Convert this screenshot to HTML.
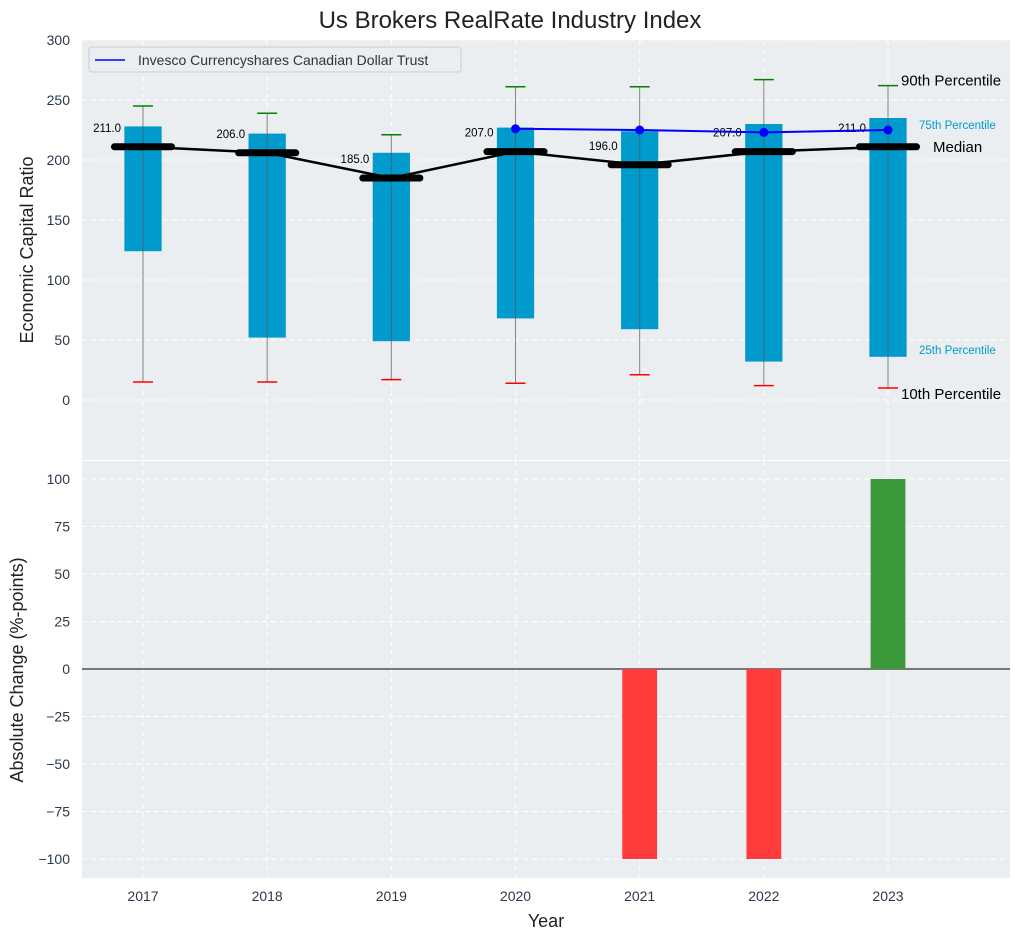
<!DOCTYPE html>
<html><head><meta charset="utf-8"><style>
body{margin:0;background:#fff;font-family:"Liberation Sans",sans-serif}
svg text{font-family:"Liberation Sans",sans-serif}
</style></head><body>
<svg id="c" width="1021" height="940" xmlns="http://www.w3.org/2000/svg"></svg>
<script>
const years=[2017,2018,2019,2020,2021,2022,2023];
const p10=[15,15,17,14,21,12,10];
const p25=[124,52,49,68,59,32,36];
const p50=[211,206,185,207,196,207,211];
const p75=[228,222,206,227,224,230,235];
const p90=[245,239,221,261,261,267,262];
const trustYears=[2020,2021,2022,2023];
const trustVals=[226,225,223,225];
const changes=[0,0,0,0,-100,-100,100];
const topTicks=[0,50,100,150,200,250,300];
const botTicks=[-100,-75,-50,-25,0,25,50,75,100];

const svg=document.getElementById('c');
const NS='http://www.w3.org/2000/svg';
function el(t,a,txt){const e=document.createElementNS(NS,t);for(const k in a)e.setAttribute(k,a[k]);if(txt!==undefined)e.textContent=txt;svg.appendChild(e);return e;}
const L=82,R=1010;
const x=v=>143+(v-2017)*(888-143)/6;
const yT=v=>460-(v+50)/350*420;
const yB=v=>669-v*1.9;

let t=el('text',{x:510,y:28,'font-size':24,'text-anchor':'middle',fill:'#222'},'Us Brokers RealRate Industry Index');


let b1=el('rect',{x:L,y:40,width:R-L,height:420,fill:'#eaeef0'});

let b2=el('rect',{x:L,y:461,width:R-L,height:417,fill:'#eaeef0'});


years.forEach(yr=>{
  el('line',{x1:x(yr),x2:x(yr),y1:40,y2:460,stroke:'#fff','stroke-dasharray':'5,4'});
  el('line',{x1:x(yr),x2:x(yr),y1:461,y2:878,stroke:'#fff','stroke-dasharray':'5,4'});
  let tl=el('text',{x:x(yr),y:901,'font-size':14,'text-anchor':'middle',fill:'#2b3a4a'},yr);
  
});
topTicks.forEach(v=>{
  el('line',{x1:L,x2:R,y1:yT(v),y2:yT(v),stroke:'#fff','stroke-dasharray':'5,4'});
  let tl=el('text',{x:L-12,y:yT(v)+5,'font-size':14,'text-anchor':'end',fill:'#2b3a4a'},v);
  
});
botTicks.forEach(v=>{
  el('line',{x1:L,x2:R,y1:yB(v),y2:yB(v),stroke:'#fff','stroke-dasharray':'5,4'});
  let tl=el('text',{x:L-12,y:yB(v)+5,'font-size':14,'text-anchor':'end',fill:'#2b3a4a'},v<0?'\u2212'+(-v):v);
  
});

const bw=(x(2017.15)-x(2017));
years.forEach((yr,i)=>{
  let r=el('rect',{x:x(yr)-bw,y:yT(p75[i]),width:2*bw,height:yT(p25[i])-yT(p75[i]),fill:'#009ACD'});
  
  el('line',{x1:x(yr),x2:x(yr),y1:yT(p90[i]),y2:yT(p10[i]),stroke:'#555','stroke-width':1,opacity:0.7});
  let g=el('line',{x1:x(yr)-10,x2:x(yr)+10,y1:yT(p90[i]),y2:yT(p90[i]),stroke:'green','stroke-width':1.5});
  
  let rd=el('line',{x1:x(yr)-10,x2:x(yr)+10,y1:yT(p10[i]),y2:yT(p10[i]),stroke:'red','stroke-width':1.5});
  
});
let pts=years.map((yr,i)=>x(yr)+','+yT(p50[i])).join(' ');
let ml=el('polyline',{points:pts,fill:'none',stroke:'#000','stroke-width':2.5});

const mw=x(2017.23)-x(2017);
years.forEach((yr,i)=>{
  let m=el('line',{x1:x(yr)-mw,x2:x(yr)+mw,y1:yT(p50[i]),y2:yT(p50[i]),stroke:'#000','stroke-width':7,'stroke-linecap':'round'});
  
  let lb=el('text',{x:x(yr)-22,y:yT(p50[i])-15,'font-size':11.5,'text-anchor':'end',fill:'#000'},p50[i].toFixed(1));
  
});
let tp=trustYears.map((yr,i)=>x(yr)+','+yT(trustVals[i])).join(' ');
let tline=el('polyline',{points:tp,fill:'none',stroke:'#0000ff','stroke-width':2});

trustYears.forEach((yr,i)=>{
  let c=el('circle',{cx:x(yr),cy:yT(trustVals[i]),r:4.5,fill:'#0000ff'});
  
});
const lx=x(2023);
[['90th Percentile',lx+13,yT(p90[6])+0,15,'#000'],['75th Percentile',lx+31,yT(p75[6])+11,11.5,'#009ACD'],['Median',lx+45,yT(p50[6])+5,15,'#000'],['25th Percentile',lx+31,yT(p25[6])-3,11.5,'#009ACD'],['10th Percentile',lx+13,yT(p10[6])+11,15,'#000']].forEach(a=>{
  let e=el('text',{x:a[1],y:a[2],'font-size':a[3],fill:a[4]},a[0]);
  
});
let lg=el('rect',{x:89,y:47,width:372,height:25,rx:3,fill:'#eaeef0',stroke:'#ccc'});

el('line',{x1:95,x2:125,y1:60,y2:60,stroke:'#0000ff','stroke-width':1.5});
let lt=el('text',{x:138,y:65,'font-size':14,fill:'#333'},'Invesco Currencyshares Canadian Dollar Trust');


el('line',{x1:L,x2:R,y1:yB(0),y2:yB(0),stroke:'#000','stroke-width':1});
const cbw=x(2017.14)-x(2017);
years.forEach((yr,i)=>{
  const v=changes[i]; if(v===0)return;
  let r=el('rect',{x:x(yr)-cbw,y:Math.min(yB(0),yB(v)),width:2*cbw,height:Math.abs(yB(v)-yB(0)),fill:v<0?'#ff3b3b':'#3a9a3a'});
  
});
let a1=el('text',{x:0,y:0,'font-size':18,'text-anchor':'middle',fill:'#222',transform:'translate(33,250) rotate(-90)'},'Economic Capital Ratio');

let a2=el('text',{x:0,y:0,'font-size':18,'text-anchor':'middle',fill:'#222',transform:'translate(23,670) rotate(-90)'},'Absolute Change (%-points)');

let a3=el('text',{x:546,y:927,'font-size':18,'text-anchor':'middle',fill:'#222'},'Year');

</script>
</body></html>
